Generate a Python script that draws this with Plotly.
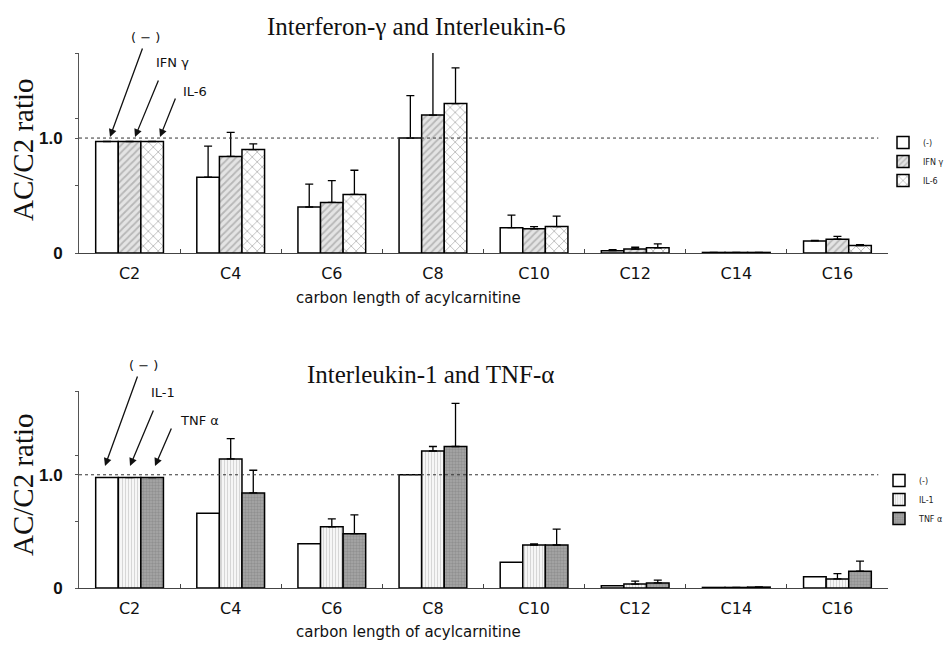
import plotly.graph_objects as go

categories = ["C2", "C4", "C6", "C8", "C10", "C12", "C14", "C16"]

# Top panel: Interferon-gamma and Interleukin-6
top_names = ["(-)", "IFN γ", "IL-6"]
top_ctrl = [0.97, 0.66, 0.40, 1.00, 0.22, 0.02, 0.005, 0.105]
top_ctrl_sd = [0, 0.27, 0.20, 0.37, 0.11, 0.01, 0, 0.005]
top_ifn = [0.97, 0.84, 0.44, 1.20, 0.21, 0.035, 0.005, 0.12]
top_ifn_sd = [0, 0.21, 0.19, 0.55, 0.02, 0.015, 0, 0.025]
top_il6 = [0.97, 0.90, 0.51, 1.30, 0.23, 0.045, 0.005, 0.065]
top_il6_sd = [0, 0.05, 0.21, 0.31, 0.09, 0.035, 0, 0.007]

# Bottom panel: Interleukin-1 and TNF-alpha
bot_names = ["(-)", "IL-1", "TNF α"]
bot_ctrl = [0.975, 0.66, 0.39, 1.00, 0.228, 0.02, 0.005, 0.10]
bot_il1 = [0.975, 1.14, 0.54, 1.21, 0.38, 0.035, 0.005, 0.08]
bot_il1_sd = [0, 0.18, 0.07, 0.04, 0.01, 0.025, 0, 0.047]
bot_tnf = [0.975, 0.84, 0.48, 1.25, 0.38, 0.045, 0.008, 0.148]
bot_tnf_sd = [0, 0.20, 0.165, 0.38, 0.14, 0.025, 0.002, 0.09]

W, H = 952, 650
def px(x): return x / W
def py(y): return 1 - y / H

fig = go.Figure()

def err(sd, show=True):
    return dict(type="data", array=sd, arrayminus=[0]*len(sd), symmetric=False,
                color="black", thickness=1.3, width=4, visible=show)

line = dict(color="black", width=1.5)

pat_white = dict(color="white", line=line)
pat_ifn = dict(color="#d8d8d8", line=line,
               pattern=dict(shape="/", fgcolor="#8a8a8a", bgcolor="#e4e4e4", size=5, solidity=0.35))
pat_il6 = dict(color="white", line=line,
               pattern=dict(shape="x", fgcolor="#555555", bgcolor="white", size=7, solidity=0.2))
pat_il1 = dict(color="white", line=line,
               pattern=dict(shape="|", fgcolor="#b0b0b0", bgcolor="#f6f6f6", size=3, solidity=0.3))
pat_tnf = dict(color="#999999", line=line,
               pattern=dict(shape=".", fgcolor="#777777", bgcolor="#a8a8a8", size=3, solidity=0.5))

fig.add_trace(go.Bar(x=categories, y=top_ctrl, name=top_names[0], marker=pat_white,
                     error_y=err(top_ctrl_sd), xaxis="x", yaxis="y", legend="legend"))
fig.add_trace(go.Bar(x=categories, y=top_ifn, name=top_names[1], marker=pat_ifn,
                     error_y=err(top_ifn_sd), xaxis="x", yaxis="y", legend="legend"))
fig.add_trace(go.Bar(x=categories, y=top_il6, name=top_names[2], marker=pat_il6,
                     error_y=err(top_il6_sd), xaxis="x", yaxis="y", legend="legend"))

fig.add_trace(go.Bar(x=categories, y=bot_ctrl, name=bot_names[0], marker=pat_white,
                     xaxis="x2", yaxis="y2", legend="legend2"))
fig.add_trace(go.Bar(x=categories, y=bot_il1, name=bot_names[1], marker=pat_il1,
                     error_y=err(bot_il1_sd), xaxis="x2", yaxis="y2", legend="legend2"))
fig.add_trace(go.Bar(x=categories, y=bot_tnf, name=bot_names[2], marker=pat_tnf,
                     error_y=err(bot_tnf_sd), xaxis="x2", yaxis="y2", legend="legend2"))

xdom = [px(79), px(888)]
xcommon = dict(domain=xdom, type="category", showline=True, linecolor="#444", linewidth=1.2,
               ticks="inside", tickson="boundaries", ticklen=4, tickcolor="#444",
               tickfont=dict(family="DejaVu Sans", size=16, color="#111"),
               ticklabelstandoff=6, showgrid=False, zeroline=False, automargin=False)
ycommon = dict(range=[0, 1.74], showline=True, linecolor="#555", linewidth=1,
               ticks="outside", ticklen=3, tickcolor="#555",
               tickvals=[0, 1.0], ticktext=["0", "1.0"],
               tickfont=dict(family="Liberation Sans", size=17, color="#111", weight="bold"),
               ticklabelstandoff=9,
               minor=dict(tickmode="array", tickvals=[0.583, 1.166, 1.74], ticks="outside",
                          ticklen=3, tickcolor="#555"),
               showgrid=False, zeroline=False, automargin=False)

legfont = dict(family="DejaVu Sans", size=8, color="#222")
fig.update_layout(
    width=W, height=H, margin=dict(l=0, r=0, t=0, b=0, autoexpand=False),
    paper_bgcolor="white", plot_bgcolor="white",
    barmode="group", bargap=0.33, bargroupgap=0,
    xaxis=dict(**xcommon, anchor="y"),
    yaxis=dict(**ycommon, domain=[py(253), py(53)], anchor="x"),
    xaxis2=dict(**xcommon, anchor="y2"),
    yaxis2=dict(**ycommon, domain=[py(588), py(391)], anchor="x2"),
    legend=dict(x=px(883), y=py(128), xanchor="left", yanchor="top", font=legfont,
                tracegroupgap=0, bgcolor="rgba(0,0,0,0)", itemwidth=30),
    legend2=dict(x=px(879), y=py(466), xanchor="left", yanchor="top", font=legfont,
                 tracegroupgap=0, bgcolor="rgba(0,0,0,0)", itemwidth=30),
    showlegend=True,
)

# dotted reference line at 1.0
for yr, xr in [("y", "x"), ("y2", "x2")]:
    fig.add_shape(type="line", xref=f"{xr} domain", yref=yr, x0=0, x1=0.988, y0=1.0, y1=1.0,
                  line=dict(color="#333", width=1, dash="dot"))

ann = []
serif = dict(family="Liberation Serif", color="#111")
sans = dict(family="DejaVu Sans", color="#111")
C = dict(xref="paper", yref="paper", xanchor="center", yanchor="middle", showarrow=False)
# titles
ann.append(dict(text="Interferon-γ and Interleukin-6", x=px(416), y=py(27), font=dict(**serif, size=25), **C))
ann.append(dict(text="Interleukin-1 and TNF-α", x=px(430), y=py(375), font=dict(**serif, size=25), **C))
# y titles
for yc in [150, 485]:
    ann.append(dict(text="AC/C2 ratio", x=px(23), y=py(yc), textangle=-90, font=dict(**serif, size=29), **C))
# x titles
for yc in [298, 632]:
    ann.append(dict(text="carbon length of acylcarnitine", x=px(408), y=py(yc), font=dict(**sans, size=15), **C))

# arrow labels
labels_top = [("( − )", 145, 38), ("IFN γ", 172, 63), ("IL-6", 195, 91)]
arrows_top = [((110, 137), (143, 47)), ((135, 137), (159, 79)), ((160, 137), (176, 97))]
labels_bot = [("( − )", 143, 365), ("IL-1", 163, 392), ("TNF α", 199, 420)]
arrows_bot = [((105, 466), (138, 375)), ((130, 466), (154, 409)), ((155, 466), (172, 427))]
for t, x, y in labels_top + labels_bot:
    ann.append(dict(text=t, x=px(x), y=py(y), font=dict(**sans, size=13), **C))
for (hx, hy), (tx, ty) in arrows_top + arrows_bot:
    ann.append(dict(text="", x=px(hx), y=py(hy), xref="paper", yref="paper", showarrow=True,
                    ax=tx - hx, ay=ty - hy, arrowhead=2, arrowsize=1.2, arrowwidth=1.3,
                    arrowcolor="#111", standoff=0, startstandoff=0))
fig.update_layout(annotations=ann)

fig.write_html("out.html")
